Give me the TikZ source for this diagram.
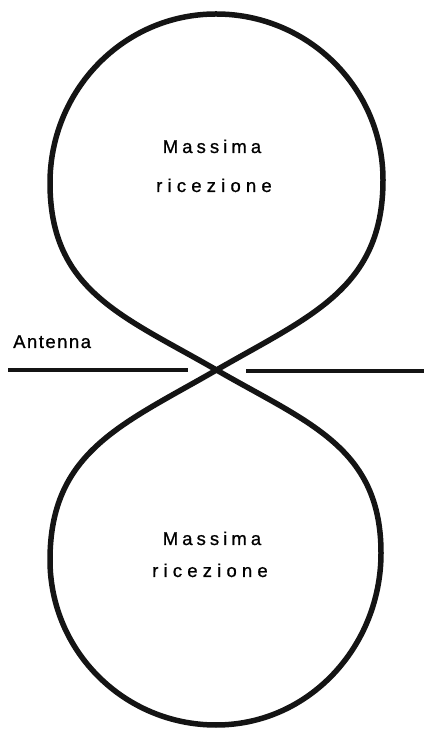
\documentclass[tikz,border=0pt]{standalone}
\usepackage{fontspec}
\setmainfont{Liberation Sans}
\begin{document}
\begin{tikzpicture}[x=1pt,y=1pt,
  lobe/.style={line width=5.5pt, draw=black!92},
  antline/.style={line width=4.8pt, draw=black!92},
  lbl/.style={anchor=base, inner sep=0pt, font=\fontsize{18.5}{20}\selectfont}]
\useasboundingbox (0,0) rectangle (424,730);
% crossing point and key points of the lobes
\coordinate (C) at (216.5,360);
\coordinate (L) at (50,547);
\coordinate (T) at (216,716);
\coordinate (R) at (383,550);
\coordinate (L2) at (50,170);
\coordinate (B) at (216,5);
\coordinate (R2) at (381,177);
% antenna ends
\coordinate (A1) at (8,360);
\coordinate (A2) at (188,360);
\coordinate (A3) at (246,359);
\coordinate (A4) at (424,359);
% upper lobe
\draw[lobe] (C) to[out=150,in=-90,looseness=1.1] (L) to[out=90,in=180] (T)
  to[out=0,in=90] (R) to[out=-90,in=30,looseness=1.1] (C);
% lower lobe
\draw[lobe] (C) to[out=-150,in=90,looseness=1.1] (L2) to[out=-90,in=180] (B)
  to[out=0,in=-90] (R2) to[out=90,in=-30,looseness=1.1] (C);
% antenna
\draw[antline] (A1) -- (A2);
\draw[antline] (A3) -- (A4);
% labels
\node[lbl, anchor=base west] (ant) at (13,382) {\addfontfeatures{LetterSpace=8,FakeBold=0.8}Antenna};
\node[lbl] (m1) at (212,577) {\addfontfeatures{LetterSpace=22,FakeBold=0.8}Massima};
\node[lbl] (r1) at (214,538) {\addfontfeatures{LetterSpace=28,FakeBold=0.8}ricezione};
\node[lbl] (m2) at (212,185) {\addfontfeatures{LetterSpace=22,FakeBold=0.8}Massima};
\node[lbl] (r2) at (210,153) {\addfontfeatures{LetterSpace=28,FakeBold=0.8}ricezione};
\end{tikzpicture}
\end{document}
